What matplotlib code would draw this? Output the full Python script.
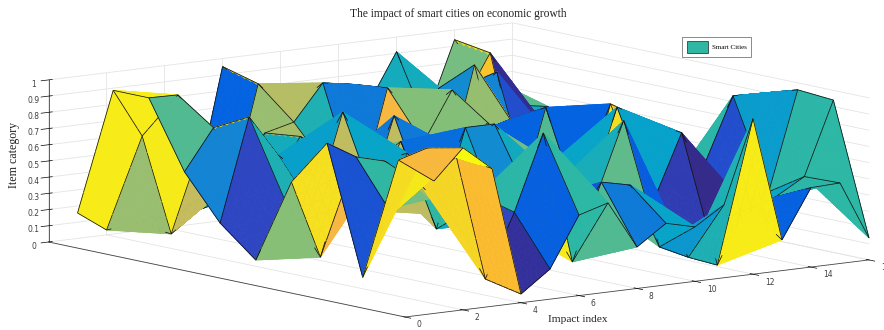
import numpy as np
import matplotlib
matplotlib.use("Agg")
import matplotlib.pyplot as plt
from matplotlib.colors import LinearSegmentedColormap
from matplotlib.patches import Patch
from mpl_toolkits.mplot3d import proj3d
from mpl_toolkits.mplot3d.art3d import Poly3DCollection

W, H = 884, 330
title = "The impact of smart cities on economic growth"
xlabel = "Impact index"
zlabel = "Item category"
legend_label = "Smart Cities"
impact_index = list(range(1, 17))
rows = list(range(0, 11))
x_ticks = [0, 2, 4, 6, 8, 10, 12, 14, 16]
z_ticks = [0, .1, .2, .3, .4, .5, .6, .7, .8, .9, 1]
z_tick_labels = ["0", "0.1", "0.2", "0.3", "0.4", "0.5", "0.6", "0.7", "0.8", "0.9", "1"]

row0 = [.817, 1.0, .85, .054, .186, .497, .55, .256, .38, .336, .45, .96, .19, .49, .497, .136]
row1 = [.90, .953, .875, .10, .49, .957, .14, .61, .57, .166, .08, .01, .35, .386, .49, .94]
row2 = [.13, .50, .656, .45, .55, .35, .47, .2, .43, .90, .37, .78, .4, .12, .35, .957]
row3 = [.912, .805, .757, .6, .5, .4, .3, .41, .5, .38, .914, .81, .45, .49, .896, .89]
row4 = [.626, .14, .72, .38, .717, .226, .83, .83, .6, .55, .2, .866, .4, .3, .41, .6]
row5 = [.098, .447, .36, .946, .6, .72, .25, .62, .77, .2, .82, .25, .3, .4, .3, .15]
row6 = [.28, .913, .655, .5, .6, .25, .81, .62, .926, .65, .70, .4, .3, .3, .4, .3]
row7 = [.55, .80, .4, .42, .68, .45, .25, .914, .7, .3, .99, .28, .12, .4, .3, .5]
row8 = [.96, .956, .73, .39, .655, .70, .92, .89, .6, .6, .8, .8, .856, .03, .4, .35]
row9 = [.96, .656, .03, .16, .2, .89, .7, .6, .7, .5, .42, .42, .6, .905, .56, .53]
row10 = [.157, .03, .05, .1, .14, .95, .8, .5, .45, .5, .6, .91, .47, .94, .70, .3]

Z = np.array([row0, row1, row2, row3, row4, row5, row6, row7, row8, row9, row10])
X, Y = np.meshgrid(impact_index, rows)

parula = LinearSegmentedColormap.from_list(
    "parula", [(0, "#352a87"), (.05, "#33309a"), (.1, "#2e47c4"), (.15, "#0b5ade"),
               (.2, "#0363e1"), (.28, "#1485d4"), (.375, "#06a4ca"),
               (.5, "#2eb7a4"), (.625, "#87bf77"), (.75, "#d1bb59"), (.81, "#f7b842"),
               (.85, "#fcbb30"), (.88, "#f6d824"), (.95, "#f6e81a"), (1, "#f9fb0e")])

plt.rcParams["grid.color"] = "#e4e4e4"
plt.rcParams["grid.linewidth"] = 0.6
serif = ["Liberation Serif", "DejaVu Serif"]
ELEV, AZIM = 9.26, -127.4
BOX = (583.7, 586.5, 164.1)

fig = plt.figure(figsize=(W / 100, H / 100), dpi=100, facecolor="white")
ax_h = W / H
base_pos = [0, (1 - ax_h) / 2, 1, ax_h]
ax = fig.add_axes(base_pos, projection="3d")
ax.set_proj_type("ortho")
ax.view_init(elev=ELEV, azim=AZIM, roll=0)
zoom = 1.0
ax.set_box_aspect(BOX, zoom=zoom)

# Each cell is split along one diagonal into two flat triangles, and each
# triangle into small pieces so that depth ordering resolves cell crossings.
N_SUB = 6
e, a_ = np.radians(ELEV), np.radians(AZIM)
view = np.array([np.cos(e) * np.cos(a_), np.cos(e) * np.sin(a_), np.sin(e)])
toward_viewer = 0.012 * view * np.array([16, 10 * BOX[0] / BOX[1], BOX[0] / BOX[2]])

tris, face_cols, edge_cols = [], [], []


def add_triangle(p, q, r, col):
    u = (q - p) / N_SUB
    v = (r - p) / N_SUB
    for i in range(N_SUB):
        for j in range(N_SUB - i):
            o = p + i * u + j * v
            tris.append([o, o + u, o + v])
            face_cols.append(col)
            edge_cols.append(col)
            if i + j < N_SUB - 1:
                tris.append([o + u, o + u + v, o + v])
                face_cols.append(col)
                edge_cols.append(col)


def add_edge(p, q):
    d = (q - p) / N_SUB
    for i in range(N_SUB):
        s = p + i * d + toward_viewer
        t = s + d
        tris.append([s, t, s])
        face_cols.append((0, 0, 0, 0))
        edge_cols.append((0.07, 0.07, 0.07, 1))


pts = np.dstack([X, Y, Z]).astype(float)
nr, nc = Z.shape
for j in range(nr - 1):
    for i in range(nc - 1):
        c = parula(Z[j, i])
        p00, p10, p01, p11 = pts[j, i], pts[j, i + 1], pts[j + 1, i], pts[j + 1, i + 1]
        add_triangle(p00, p10, p01, c)
        add_triangle(p10, p11, p01, c)
for j in range(nr):
    for i in range(nc - 1):
        add_edge(pts[j, i], pts[j, i + 1])
for j in range(nr - 1):
    for i in range(nc):
        add_edge(pts[j, i], pts[j + 1, i])

surface = Poly3DCollection(np.array(tris), facecolors=np.array(face_cols),
                           edgecolors=np.array(edge_cols), linewidths=0.55)
ax.add_collection3d(surface)
ax.set_xlim(0, 16, view_margin=0)
ax.set_ylim(0, 10, view_margin=0)
ax.set_zlim(0, 1, view_margin=0)

ax.set_xticks(x_ticks)
ax.set_yticks([])
ax.set_zticks(z_ticks)
ax.set_zticklabels(z_tick_labels)
ax.tick_params(axis="x", labelsize=5.5, labelcolor="#404040", pad=3)
ax.tick_params(axis="z", labelsize=5.5, labelcolor="#404040", pad=-2)
for tick in ax.xaxis.get_major_ticks():
    tick.label1.set(va="center", ha="left")
for a in (ax.xaxis, ax.yaxis, ax.zaxis):
    a.set_pane_color((1, 1, 1, 0))
    a.pane.set_edgecolor("#e4e4e4")
    a.line.set_color("#444444")
    a.line.set_linewidth(0.6)
    a._axinfo["tick"]["color"] = "#555555"
    a._axinfo["tick"]["linewidth"] = {True: 0.5, False: 0.5}


def screen(x, y, z):
    px, py, _ = proj3d.proj_transform(x, y, z, ax.get_proj())
    return ax.transData.transform((px, py))


# fit the projected box to the reference frame
fig.canvas.draw()
a = screen(0, 0, 0)
b = screen(16, 0, 0)
zoom *= 464.0 / (b[0] - a[0])
ax.set_box_aspect(BOX, zoom=zoom)
fig.canvas.draw()
a = screen(0, 0, 0)
dx = (405 - a[0]) / W
dy = ((H - 317) - a[1]) / H
ax.set_position([base_pos[0] + dx, base_pos[1] + dy, base_pos[2], base_pos[3]])

fig.text(458 / W, 1 - 14 / H, title, ha="center", va="center", fontsize=8.3, family=serif, color="#222222")
fig.text(578 / W, 1 - 320 / H, xlabel, ha="center", va="center", fontsize=8.2, family=serif, color="#222222")
fig.text(14 / W, 1 - 155 / H, zlabel, ha="center", va="center", rotation=90, fontsize=8.6, family=serif, color="#222222")

leg = fig.legend(handles=[Patch(facecolor=parula(0.5), edgecolor="#222222", linewidth=0.5, label=legend_label)],
                 loc="center", bbox_to_anchor=(716.5 / W, 1 - 47 / H),
                 prop={"family": serif, "size": 5}, fancybox=False, framealpha=1, edgecolor="#777777",
                 handlelength=3.1, handleheight=2.2, borderpad=0.6, handletextpad=0.5)
leg.get_frame().set_linewidth(0.6)

fig.savefig("out.png", dpi=100, facecolor="white")
